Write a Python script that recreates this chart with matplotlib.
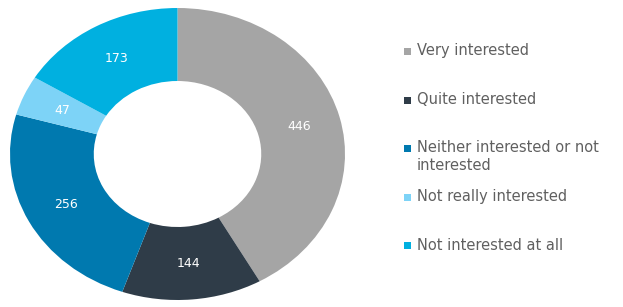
import numpy as np
import matplotlib.pyplot as plt
from matplotlib.patches import Rectangle

plt.rcParams['font.family'] = ['DejaVu Sans']

# Data
categories = ['Very interested', 'Quite interested',
              'Neither interested or not\ninterested',
              'Not really interested', 'Not interested at all']
values = [446, 144, 256, 47, 173]
colors = ['#A5A5A5', '#2F3C48', '#0079AF', '#7DD3F7', '#00B0E0']

fig = plt.figure(figsize=(6.23, 3.07), dpi=100)
W, H = 623, 307

# donut is slightly wider than tall in the reference
ax = fig.add_axes([10 / W, 7 / H, 335 / W, 292 / H])
wedges, texts = ax.pie(values, colors=colors, startangle=90, counterclock=False,
                       radius=1.0, wedgeprops=dict(width=0.5, linewidth=0))
ax.set_aspect('auto')
ax.set_xlim(-1, 1)
ax.set_ylim(-1, 1)
ax.axis('off')

# value labels in the middle of the ring
for w, v in zip(wedges, values):
    ang = np.deg2rad((w.theta1 + w.theta2) / 2)
    ax.text(0.75 * np.cos(ang), 0.75 * np.sin(ang), str(v),
            ha='center', va='center', color='white', fontsize=9)

# legend drawn by hand so the row spacing matches
rows_y = [51, 100, 148, 197, 245]
for cat, col, y in zip(categories, colors, rows_y):
    fig.patches.append(Rectangle((404 / W, (H - y - 3.5) / H), 7 / W, 7 / H,
                                 transform=fig.transFigure, facecolor=col,
                                 edgecolor='none'))
    if '\n' in cat:
        fig.text(417 / W, (H - y + 8.5) / H, cat, ha='left', va='top',
                 fontsize=10.5, color='#606060', linespacing=1.3)
    else:
        fig.text(417 / W, (H - y) / H, cat, ha='left', va='center',
                 fontsize=10.5, color='#606060')

fig.savefig('out.png', dpi=100)
